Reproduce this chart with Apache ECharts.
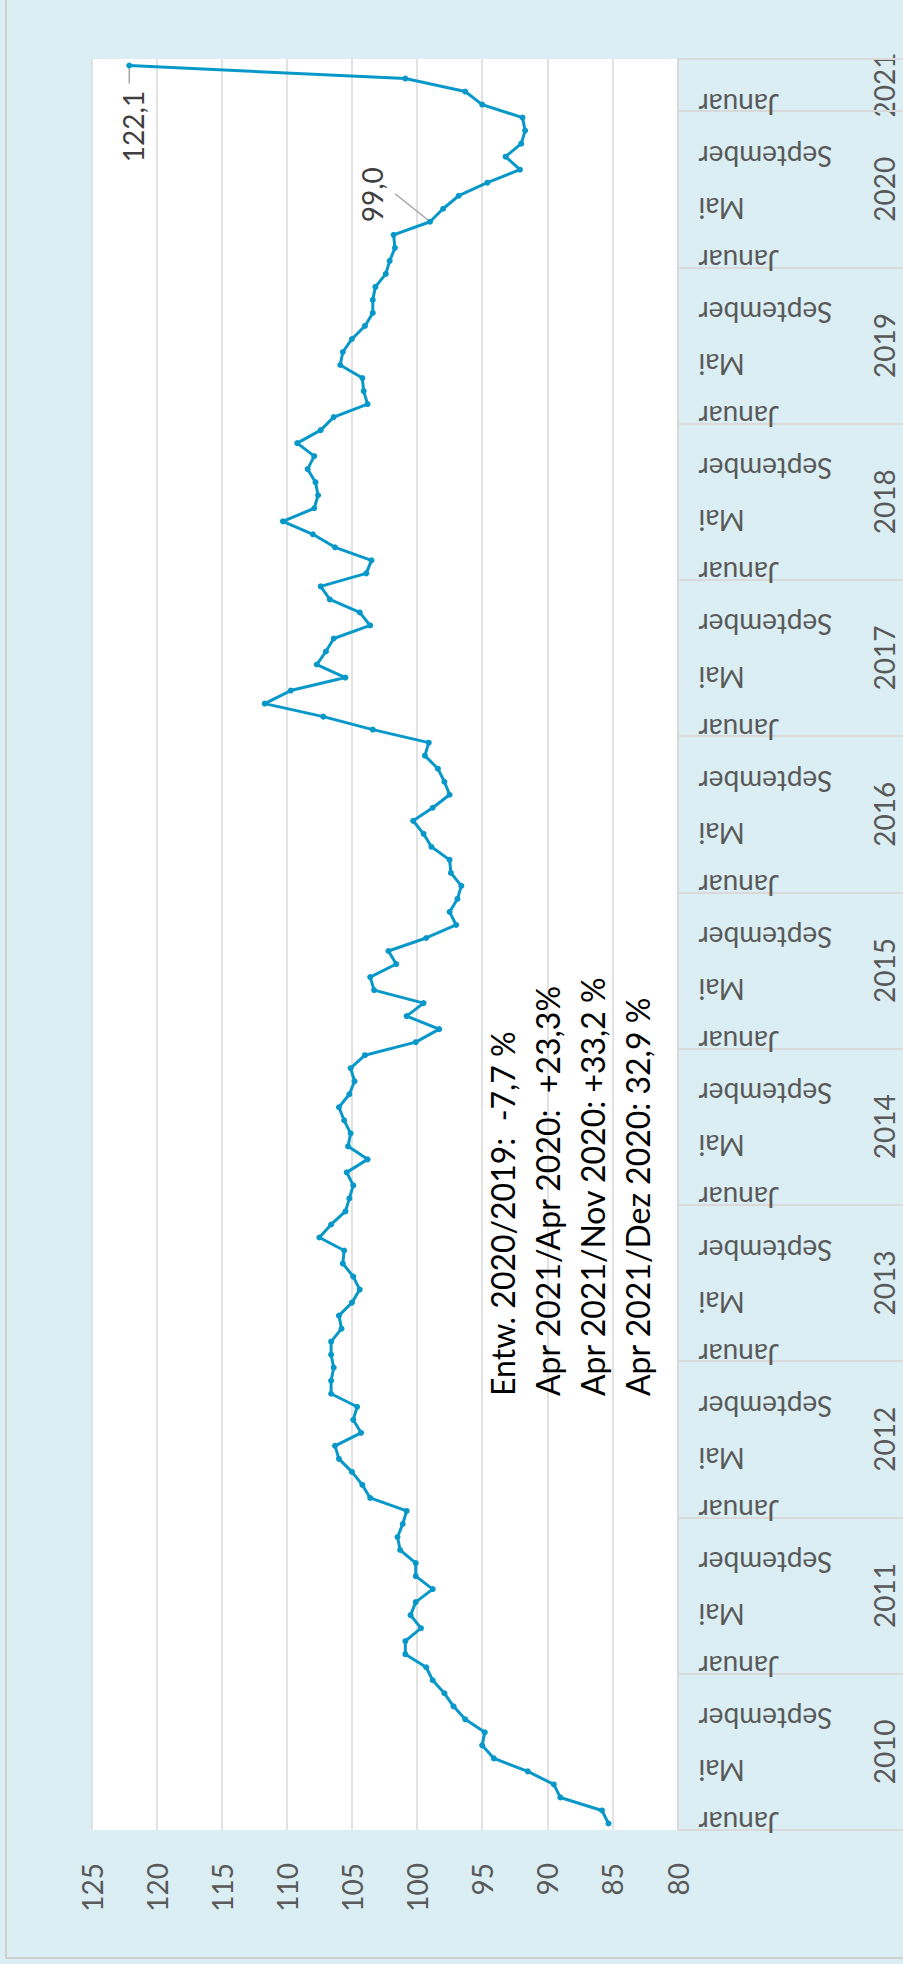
<!DOCTYPE html>
<html>
<head>
<meta charset="utf-8">
<script src="https://cdn.jsdelivr.net/npm/echarts@6/dist/echarts.min.js"></script>
<style>
html,body{margin:0;padding:0;background:#DAEEF3;}
#chart{width:903px;height:1964px;}
</style>
</head>
<body>
<div id="chart"></div>
<script>
// ---- data ----
const years = ['2010','2011','2012','2013','2014','2015','2016','2017','2018','2019','2020','2021'];
const monthNames = ['Januar','Februar','März','April','Mai','Juni','Juli','August','September','Oktober','November','Dezember'];
const v2010 = [85.3, 85.8, 89.0, 89.5, 91.5, 94.1, 95.0, 94.8, 96.3, 97.2, 97.9, 98.8];
const v2011 = [99.3, 100.9, 100.9, 99.7, 100.5, 100.1, 98.8, 100.1, 100.1, 101.3, 101.5, 101.1];
const v2012 = [100.8, 103.6, 104.2, 105.0, 106.0, 106.3, 104.3, 104.9, 104.6, 106.6, 106.6, 106.4];
const v2013 = [106.6, 106.6, 105.8, 106.0, 105.0, 104.4, 104.9, 105.7, 105.6, 107.5, 106.6, 105.5];
const v2014 = [105.2, 104.9, 105.4, 103.8, 105.3, 105.1, 105.6, 106.0, 105.2, 104.8, 105.1, 104.0];
const v2015 = [100.1, 98.3, 100.8, 99.5, 103.3, 103.6, 101.6, 102.2, 99.3, 97.0, 97.5, 96.9];
const v2016 = [96.6, 97.4, 97.5, 98.9, 99.5, 100.3, 98.8, 97.5, 97.9, 98.4, 99.4, 99.1];
const v2017 = [103.4, 107.2, 111.7, 109.7, 105.5, 107.7, 107.0, 106.4, 103.6, 104.4, 106.7, 107.4];
const v2018 = [103.9, 103.5, 106.3, 108.0, 110.3, 107.9, 107.6, 107.8, 108.4, 107.9, 109.2, 107.4];
const v2019 = [106.4, 103.8, 104.1, 104.2, 105.9, 105.7, 105.0, 104.0, 103.4, 103.4, 103.2, 102.4];
const v2020 = [102.1, 101.7, 101.8, 99.0, 98.0, 96.8, 94.6, 92.1, 93.2, 92.0, 91.7, 91.9];
const v2021 = [95.0, 96.3, 100.9, 122.1];
const yearValues = [v2010, v2011, v2012, v2013, v2014, v2015, v2016, v2017, v2018, v2019, v2020, v2021];
const valueMin = 80, valueMax = 125, valueStep = 5;
const notes = [
  'Entw. 2020/2019:  -7,7 %',
  'Apr 2021/Apr 2020:  +23,3%',
  'Apr 2021/Nov 2020: +33,2 %',
  'Apr 2021/Dez 2020: 32,9 %'
];
// labelled points: [year, monthIndex]
const labelled = [['2020', 3], ['2021', 3]];

// ---- build ----
const categories = [];
const values = [];
const yearRanges = [];
yearValues.forEach((arr, yi) => {
  const start = categories.length;
  arr.forEach((v, m) => { categories.push(monthNames[m]); values.push(v); });
  yearRanges.push([start, categories.length - 1]);
});

const FONT = 'Lato, "Open Sans", sans-serif';
const LINE = '#0798c9';
const chart = echarts.init(document.getElementById('chart'), null, {renderer: 'svg', width: 903, height: 1964});

chart.setOption({
  animation: false,
  backgroundColor: '#DAEEF3',
  grid: {left: 91.5, right: 225.5, top: 59, bottom: 134, show: true, backgroundColor: '#ffffff',
         borderWidth: 0, containLabel: false, outerBoundsMode: 'none'},
  xAxis: {
    type: 'value', min: valueMin, max: valueMax, interval: valueStep, inverse: true, position: 'bottom',
    axisLine: {show: false}, axisTick: {show: false},
    splitLine: {show: true, lineStyle: {color: '#d9d9d9', width: 1.5}},
    axisLabel: {rotate: 90, margin: 33, fontSize: 28, color: '#595959', fontFamily: FONT,
                showMinLabel: true, showMaxLabel: true}
  },
  yAxis: {
    type: 'category', data: categories, position: 'right', boundaryGap: true,
    axisLine: {show: true, lineStyle: {color: '#d9d9d9', width: 2}},
    axisTick: {show: true, interval: (i) => i % 12 === 0, length: 226, lineStyle: {color: '#d9d9d9', width: 2}},
    axisLabel: {interval: (i) => i % 4 === 0, rotate: 180, margin: 21, fontSize: 28, color: '#595959', fontFamily: FONT},
    splitLine: {show: false}
  },
  series: [{
    type: 'line', data: values, symbol: 'circle', symbolSize: 6, showAllSymbol: true,
    lineStyle: {color: LINE, width: 3}, itemStyle: {color: LINE}, emphasis: {disabled: true}, z: 3
  }]
});

const graphics = [];
// outer border
graphics.push({type: 'rect', shape: {x: 6, y: -10, width: 910, height: 1968},
  style: {fill: 'none', stroke: '#d0d0d0', lineWidth: 2}, silent: true});
// year labels (second level of category axis)
const axisX = chart.convertToPixel({gridIndex: 0}, [valueMin, 0])[0];
yearRanges.forEach((r, yi) => {
  const y0 = chart.convertToPixel({yAxisIndex: 0}, r[0]);
  const y1 = chart.convertToPixel({yAxisIndex: 0}, r[1]);
  graphics.push({type: 'text', x: axisX + 206, y: (y0 + y1) / 2, rotation: Math.PI / 2,
    style: {text: years[yi], fontSize: 28, fontFamily: FONT, fill: '#595959', align: 'center', verticalAlign: 'middle'}, silent: true});
});
// data labels with leader lines
const labelCfg = [
  {dx: -58, dy: -27, lx: -35, ly: -28, ly0: 0},
  {dx: 3.5, dy: 61, lx: 0, ly: 18, ly0: 2}
];
labelled.forEach((p, k) => {
  const yi = years.indexOf(p[0]);
  const idx = yearRanges[yi][0] + p[1];
  const v = values[idx];
  const pt = chart.convertToPixel({gridIndex: 0}, [v, idx]);
  const c = labelCfg[k];
  graphics.push({type: 'line', shape: {x1: pt[0], y1: pt[1] + c.ly0, x2: pt[0] + c.lx, y2: pt[1] + c.ly},
    style: {stroke: '#a6a6a6', lineWidth: 1.5}, silent: true, z: 1});
  graphics.push({type: 'text', x: pt[0] + c.dx, y: pt[1] + c.dy, rotation: Math.PI / 2,
    style: {text: v.toFixed(1).replace('.', ','), fontSize: 28, fontFamily: FONT, fill: '#404040', align: 'center', verticalAlign: 'middle'}, silent: true});
});
// note text block
notes.forEach((t, i) => {
  graphics.push({type: 'text', x: 502 + i * 45, y: 1396, rotation: Math.PI / 2,
    style: {text: t, fontSize: 32, fontFamily: FONT, fill: '#000000', align: 'left', verticalAlign: 'middle'}, silent: true});
});
chart.setOption({graphic: graphics});
</script>
</body>
</html>
